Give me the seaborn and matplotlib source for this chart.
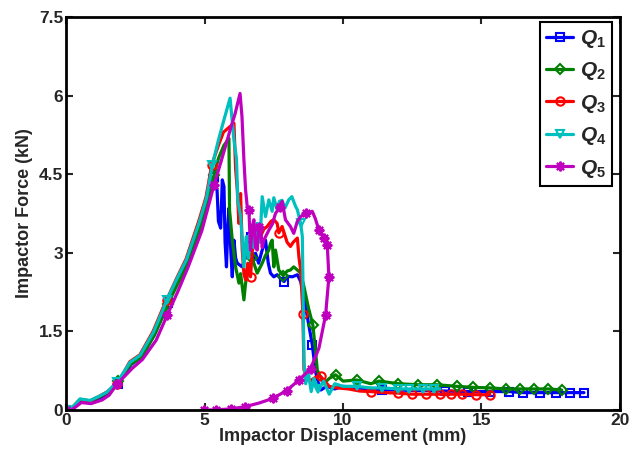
import matplotlib
matplotlib.use("Agg")
import matplotlib.pyplot as plt
import seaborn as sns
import pandas as pd

# ---------------- data ----------------
x_ticks = [0, 5, 10, 15, 20]
y_ticks = [0, 1.5, 3, 4.5, 6, 7.5]
y_tick_labels = ["0", "1.5", "3", "4.5", "6", "7.5"]
labels = ["Q1", "Q2", "Q3", "Q4", "Q5"]

q1_x = [0, 0.16, 0.52, 0.88, 1.25, 1.49, 1.87, 2.35, 2.71, 3.19, 3.55, 3.67, 4.02, 4.38, 4.86, 5.11, 5.34,
        5.45, 5.5, 5.58, 5.64, 5.70, 5.74, 5.79, 5.84, 5.88, 5.95, 6.0, 6.06, 6.12, 6.18, 6.36, 6.5, 6.66,
        6.75, 6.84, 6.95, 7.08, 7.2, 7.3, 7.38, 7.5, 7.62, 7.75, 7.87, 8.0, 8.17, 8.35, 8.47, 8.59, 8.71,
        8.89, 9.0, 9.07, 9.2, 9.4, 9.7, 10.0, 10.5, 11.0, 11.4, 12.0, 12.5, 13.0, 13.7, 14.5, 15.3, 16.0,
        16.5, 17.1, 17.7, 18.2, 18.7]
q1_y = [0, 0.0, 0.18, 0.15, 0.24, 0.31, 0.49, 0.87, 1.0, 1.44, 1.88, 2.04, 2.42, 2.79, 3.52, 3.97, 4.45,
        4.2, 3.6, 3.47, 4.39, 4.26, 3.2, 2.73, 3.5, 3.85, 3.0, 2.54, 3.24, 2.9, 2.80, 2.73, 2.95, 3.3,
        2.83, 2.99, 2.8, 3.05, 3.24, 2.8, 2.61, 2.54, 2.58, 2.5, 2.45, 2.55, 2.54, 2.58, 2.45, 2.16, 1.78,
        1.24, 0.76, 0.57, 0.38, 0.45, 0.40, 0.45, 0.42, 0.40, 0.38, 0.38, 0.37, 0.37, 0.36, 0.35, 0.35, 0.35,
        0.33, 0.33, 0.33, 0.33, 0.33]
q1_mark = [0, 1.87, 3.67, 5.34, 6.66, 7.87, 8.89, 11.4, 13.7, 14.5, 15.3, 16.0, 16.5, 17.1, 17.7, 18.2, 18.7]

q2_x = [0, 0.16, 0.52, 0.88, 1.25, 1.49, 1.87, 2.35, 2.71, 3.19, 3.55, 3.67, 4.02, 4.38, 4.86, 5.11, 5.34,
        5.5, 5.7, 5.88, 5.9, 6.0, 6.12, 6.24, 6.3, 6.42, 6.48, 6.6, 6.72, 6.9, 7.08, 7.2, 7.32, 7.38, 7.44,
        7.5, 7.56, 7.68, 7.84, 7.98, 8.1, 8.22, 8.35, 8.47, 8.59, 8.75, 8.91, 9.0, 9.07, 9.3, 9.5, 9.73,
        10.0, 10.5, 11.0, 11.3, 12.0, 12.7, 13.4, 14.1, 14.7, 15.3, 15.9, 16.4, 16.9, 17.4, 17.9]
q2_y = [0, 0.0, 0.2, 0.17, 0.26, 0.33, 0.55, 0.88, 1.0, 1.43, 1.86, 2.02, 2.4, 2.77, 3.5, 3.95, 4.48,
        4.8, 5.05, 5.18, 3.82, 3.24, 2.73, 2.42, 2.6, 2.10, 2.42, 2.7, 2.89, 2.61, 2.80, 2.95, 3.05, 3.18, 3.24,
        2.73, 3.05, 2.67, 2.56, 2.65, 2.67, 2.73, 2.67, 2.61, 2.35, 1.95, 1.62, 1.15, 0.76, 0.5, 0.6, 0.67,
        0.55, 0.57, 0.5, 0.55, 0.5, 0.48, 0.48, 0.45, 0.43, 0.42, 0.40, 0.40, 0.40, 0.40, 0.38]
q2_mark = [0, 1.87, 3.67, 5.34, 6.72, 7.84, 8.91, 9.73, 10.5, 11.3, 12.0, 12.7, 13.4, 14.1, 14.7, 15.3,
           15.9, 16.4, 16.9, 17.4, 17.9]

q3_x = [0, 0.14, 0.5, 0.86, 1.23, 1.47, 1.85, 2.3, 2.66, 3.14, 3.5, 3.63, 3.98, 4.33, 4.8, 5.05, 5.26,
        5.5, 5.68, 5.9, 6.06, 6.12, 6.18, 6.24, 6.30, 6.36, 6.42, 6.48, 6.56, 6.66, 6.72, 6.84, 7.02, 7.14,
        7.26, 7.4, 7.5, 7.62, 7.68, 7.8, 7.98, 8.1, 8.2, 8.35, 8.41, 8.47, 8.55, 8.59, 8.8, 9.0, 9.19, 9.5,
        9.79, 10.2, 10.6, 11.0, 11.5, 12.0, 12.5, 13.0, 13.5, 13.9, 14.3, 14.8, 15.3]
q3_y = [0, 0.0, 0.2, 0.17, 0.27, 0.34, 0.5, 0.92, 1.05, 1.5, 1.95, 2.1, 2.5, 2.88, 3.62, 4.06, 4.68,
        5.05, 5.3, 5.4, 5.47, 4.6, 4.2, 3.56, 4.13, 3.05, 2.6, 2.48, 2.8, 2.54, 3.05, 3.18, 3.31, 3.45,
        3.50, 3.6, 3.63, 3.56, 3.38, 3.50, 3.2, 3.12, 3.2, 3.28, 2.9, 2.67, 1.83, 0.76, 0.55, 0.62, 0.64, 0.45,
        0.42, 0.40, 0.36, 0.35, 0.33, 0.32, 0.30, 0.30, 0.30, 0.30, 0.30, 0.29, 0.29]
q3_mark = [0, 1.85, 3.63, 5.26, 6.66, 7.68, 8.55, 9.19, 11.0, 12.0, 12.5, 13.0, 13.5, 13.9, 14.3, 14.8, 15.3]

q4_x = [0, 0.14, 0.5, 0.86, 1.23, 1.47, 1.85, 2.31, 2.67, 3.15, 3.51, 3.63, 3.98, 4.34, 4.82, 5.07, 5.28,
        5.5, 5.68, 5.92, 6.0, 6.06, 6.15, 6.2, 6.3, 6.36, 6.42, 6.5, 6.58, 6.66, 6.78, 6.9, 7.0, 7.08, 7.2,
        7.32, 7.44, 7.5, 7.62, 7.7, 7.8, 7.9, 8.04, 8.15, 8.29, 8.35, 8.47, 8.53, 8.59, 8.65, 8.75, 8.85,
        8.95, 9.1, 9.3, 9.5, 9.7, 10.0, 10.5, 11.0, 11.4, 12.0, 12.4, 12.9, 13.3, 13.5]
q4_y = [0, 0.0, 0.21, 0.18, 0.27, 0.34, 0.53, 0.91, 1.04, 1.48, 1.93, 2.09, 2.48, 2.86, 3.6, 4.05, 4.67,
        5.15, 5.5, 5.95, 5.5, 5.15, 4.8, 4.0, 3.69, 3.24, 2.73, 3.3, 2.9, 3.24, 3.1, 3.56, 3.2, 4.07, 3.69,
        4.01, 3.79, 4.05, 3.82, 3.98, 4.0, 3.85, 4.01, 4.07, 3.88, 3.82, 3.56, 3.31, 0.89, 0.5, 0.7, 0.35,
        0.6, 0.4, 0.55, 0.3, 0.5, 0.45, 0.45, 0.42, 0.42, 0.40, 0.40, 0.40, 0.40, 0.40]
q4_mark = [0, 1.85, 3.63, 5.28, 6.66, 8.47, 9.1, 10.5, 11.4, 12.0, 12.4, 12.9, 13.3]

q5_x = [0, 0.2, 0.55, 0.9, 1.3, 1.55, 1.85, 2.4, 2.75, 3.25, 3.65, 4.0, 4.4, 4.9, 5.34, 5.6, 5.9, 6.1,
        6.28, 6.35, 6.42, 6.48, 6.54, 6.6, 6.66, 6.72, 6.78, 6.84, 6.9, 6.96, 7.02, 7.08, 7.14, 7.32, 7.45,
        7.56, 7.74, 7.8, 7.92, 8.1, 8.22, 8.35, 8.47, 8.65, 8.89, 9.0, 9.13, 9.31, 9.43, 9.49, 9.37, 9.13,
        8.83, 8.41, 7.96, 7.47, 6.96, 6.45, 5.94, 5.40, 4.97]
q5_y = [0, 0.0, 0.14, 0.12, 0.19, 0.28, 0.5, 0.8, 0.96, 1.33, 1.81, 2.22, 2.72, 3.42, 4.29, 4.75, 5.3, 5.65,
        6.04, 5.6, 4.77, 4.2, 3.88, 3.82, 3.05, 3.5, 3.63, 3.1, 3.05, 3.5, 3.50, 3.1, 3.24, 3.43, 3.55,
        3.75, 3.88, 3.98, 3.63, 3.50, 3.37, 3.6, 3.69, 3.75, 3.79, 3.65, 3.43, 3.28, 3.15, 2.54, 1.81, 1.18,
        0.79, 0.57, 0.37, 0.22, 0.13, 0.06, 0.02, 0.0, 0.0]
q5_mark = [0, 1.85, 3.65, 5.34, 6.6, 7.74, 8.65, 9.13, 9.31, 9.43, 9.49, 9.37, 8.83, 8.41, 7.96, 7.47,
           6.96, 6.45, 5.94, 5.40, 4.97]

colors = ["#0000ff", "#007f00", "#ff0000", "#00bfbf", "#bf00bf"]
markers = ["s", "D", "o", "v", (8, 2, 0)]
msizes = [6, 5, 6, 6, 7]

# ---------------- plot ----------------
sns.set_style("ticks")
plt.rcParams["font.family"] = ["Liberation Sans", "DejaVu Sans"]
plt.rcParams["font.weight"] = "bold"
plt.rcParams["mathtext.fontset"] = "custom"
plt.rcParams["mathtext.it"] = "Liberation Sans:italic:bold"
plt.rcParams["mathtext.rm"] = "Liberation Sans:bold"

fig = plt.figure(figsize=(6.3, 4.58), dpi=100)
ax = fig.add_axes([0.105, 0.105, 0.879, 0.858])

series = [(q1_x, q1_y, q1_mark), (q2_x, q2_y, q2_mark), (q3_x, q3_y, q3_mark),
          (q4_x, q4_y, q4_mark), (q5_x, q5_y, q5_mark)]

for i, (xs, ys, mk) in enumerate(series):
    df = pd.DataFrame({"x": xs, "y": ys})
    idx = [xs.index(v) for v in mk]
    num = labels[i][1:]
    sns.lineplot(data=df, x="x", y="y", sort=False, estimator=None, ax=ax,
                 color=colors[i], linewidth=2.3, marker=markers[i], markevery=idx,
                 markersize=msizes[i], markerfacecolor="none" if i != 4 else colors[i],
                 markeredgecolor=colors[i], markeredgewidth=1.5,
                 label=r"$Q_{%s}$" % num)

ax.set_xlim(0, 20)
ax.set_ylim(0, 7.5)
ax.set_xticks(x_ticks)
ax.set_xticklabels([str(v) for v in x_ticks])
ax.set_yticks(y_ticks)
ax.set_yticklabels(y_tick_labels)
ax.tick_params(direction="in", length=5, width=1.5, top=True, right=True,
               labelsize=12.5, pad=2)
for lab in ax.get_xticklabels() + ax.get_yticklabels():
    lab.set_fontweight("bold")
for sp in ax.spines.values():
    sp.set_visible(True)
    sp.set_linewidth(2)
    sp.set_color("black")

ax.set_xlabel("Impactor Displacement (mm)", fontsize=13, fontweight="bold", labelpad=0)
ax.set_ylabel("Impactor Force (kN)", fontsize=13, fontweight="bold", labelpad=4)

leg = ax.legend(loc="upper right", fontsize=15, frameon=True, fancybox=False,
                edgecolor="black", framealpha=1, handlelength=1.3, labelspacing=0.5,
                borderpad=0.3, handletextpad=0.3, borderaxespad=0.0,
                bbox_to_anchor=(0.986, 0.988))
leg.get_frame().set_linewidth(1.5)

fig.savefig("out.png", dpi=100)
